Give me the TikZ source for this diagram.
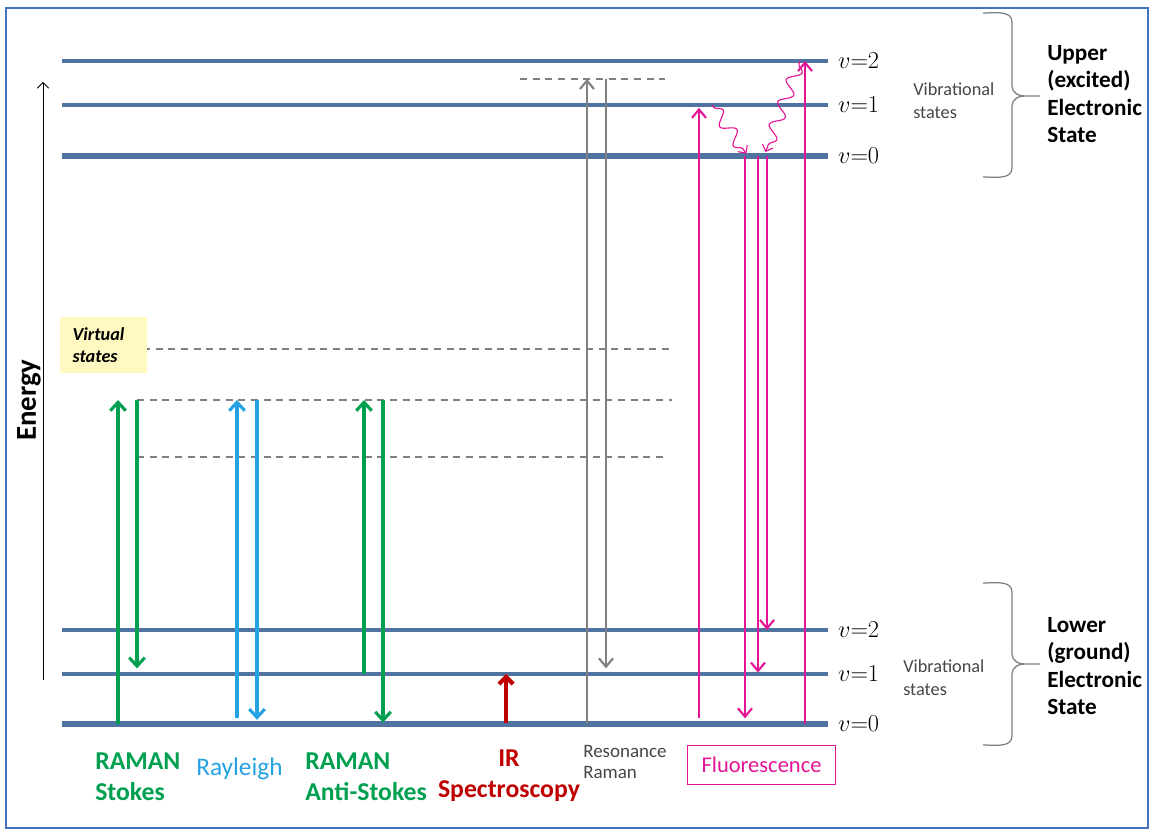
\documentclass[tikz,border=0pt]{standalone}
\usepackage{fontspec}
\setmainfont{Carlito}
\usetikzlibrary{arrows.meta}
\usetikzlibrary{positioning}
\usetikzlibrary{decorations.pathmorphing}

\definecolor{levelblue}{RGB}{80,116,162}
\definecolor{frameblue}{RGB}{68,114,196}
\definecolor{ramangreen}{RGB}{0,160,80}
\definecolor{rayblue}{RGB}{36,162,228}
\definecolor{irred}{RGB}{192,0,0}
\definecolor{resgray}{RGB}{128,128,128}
\definecolor{fluomag}{RGB}{228,20,150}
\definecolor{virtyellow}{RGB}{255,248,192}
\definecolor{textgray}{RGB}{70,70,70}

\tikzset{
    level/.style={levelblue, line width=2.5pt},
    zerolevel/.style={levelblue, line width=4.5pt},
    virtual/.style={gray, line width=1.1pt, dash pattern=on 5pt off 4pt},
    trans/.style={line width=2.2pt, -{Straight Barb[length=6pt,width=11pt]}},
    stokes/.style={trans, ramangreen},
    rayleigh/.style={trans, rayblue},
    ir/.style={trans, irred, line width=3pt, -{Straight Barb[length=5pt,width=10pt]}},
    res/.style={trans, resgray, line width=1.5pt, -{Straight Barb[length=6pt,width=10pt]}},
    fluo/.style={trans, fluomag, line width=1.5pt, -{Straight Barb[length=6pt,width=10pt]}},
    wavy/.style={fluomag, line width=0.8pt, decorate,
        decoration={snake, segment length=17pt, amplitude=4.5pt, pre length=2pt, post length=5pt},
        -{Straight Barb[length=4pt,width=8pt]}},
    statebrace/.style={gray, line width=0.9pt},
    vlab/.style={font=\fontsize{17}{20}\selectfont, inner sep=0pt},
    statelab/.style={font=\fontsize{16.5}{19.5}\selectfont\bfseries, align=left, anchor=north west, inner sep=0pt},
    viblab/.style={font=\fontsize{13}{16.3}\selectfont, text=textgray, align=left, anchor=north west, inner sep=0pt},
    methodlab/.style={font=\fontsize{18.3}{21.5}\selectfont\bfseries, align=left, anchor=north west, inner sep=0pt}
}

\begin{document}
\begin{tikzpicture}[x=0.025cm, y=-0.025cm]
    \useasboundingbox (0,0) rectangle (1152,832);
    \draw[frameblue, line width=1.5pt] (6,8) rectangle (1148,828);

    % energy levels
    \foreach \n/\y in {e2/61, e1/105, g2/630, g1/674}
        \draw[level] (62,\y) coordinate (\n) -- (828,\y) coordinate (\n-r);
    \foreach \n/\y in {e0/156, g0/724}
        \draw[zerolevel] (62,\y) coordinate (\n) -- (828,\y) coordinate (\n-r);
    \foreach \n/\v in {e2/2, e1/1, e0/0, g2/2, g1/1, g0/0}
        \node[vlab, right=7pt of \n-r] (\n-lab) {$v{=}\v$};

    % virtual states
    \draw[virtual] (143,349) coordinate (v1) -- (672,349);
    \draw[virtual] (137,400) coordinate (v2) -- (672,400);
    \draw[virtual] (137,457) coordinate (v3) -- (667,457);
    \draw[virtual] (520,79)  coordinate (vr) -- (665,79);
    \node[fill=virtyellow, text width=44pt, inner xsep=9pt, minimum height=40pt, align=left,
          font=\fontsize{13}{15.5}\selectfont\bfseries\itshape] (vstates) at (103.5,345) {Virtual\\states};

    % energy axis
    \coordinate (ax-bot) at (43,680);
    \coordinate (ax-top) at (43,82);
    \draw[line width=0.6pt, -{Straight Barb[length=4pt,width=8pt]}] (ax-bot) -- (ax-top);
    \node[rotate=90, font=\fontsize{20.5}{24}\selectfont\bfseries] (energy) at (29,400) {Energy};

    % transitions
    \path
        (118,0 |- g0) edge[stokes]                   (118,0 |- v2)
        (137,0 |- v2) edge[stokes, shorten >=4pt]    (137,0 |- g1)
        (237,0 |- g0) edge[rayleigh, shorten <=4pt]  (237,0 |- v2)
        (257,0 |- v2) edge[rayleigh, shorten >=3pt]  (257,0 |- g0)
        (364,0 |- g1) edge[stokes]                   (364,0 |- v2)
        (383,0 |- v2) edge[stokes, shorten >=1pt]    (383,0 |- g0)
        (506,0 |- g0) edge[ir, shorten <=1pt]        (506,0 |- g1)
        (587,0 |- g0) edge[res]                      (587,0 |- vr)
        (606,0 |- vr) edge[res, shorten >=4pt]       (606,0 |- g1)
        (699,0 |- g0) edge[fluo, shorten <=4pt, shorten >=2pt] (699,0 |- e1)
        (745,0 |- e0) edge[fluo, shorten >=4pt]      (745,0 |- g0)
        (758,0 |- e0) edge[fluo, shorten >=1pt]      (758,0 |- g1)
        (767,0 |- e0) edge[fluo]                     (767,0 |- g2)
        (805,0 |- g0) edge[fluo]                     (805,0 |- e2);
    \draw[wavy, shorten >=2pt] (712,0 |- e1) -- (748,0 |- e0);
    \draw[wavy, shorten >=3pt] (800,0 |- e2) -- (764,0 |- e0);

    % braces and state names
    \draw[statebrace] (983,13) to[out=0,in=90] (1012,22) -- (1012,86)
        to[out=-90,in=180] (1024,96) -- (1040,96);
    \draw[statebrace] (1024,96) to[out=180,in=90] (1012,106) -- (1012,168)
        to[out=-90,in=0] (983,177);
    \draw[statebrace] (983,583) to[out=0,in=90] (1012,592) -- (1012,654)
        to[out=-90,in=180] (1024,664) -- (1040,664);
    \draw[statebrace] (1024,664) to[out=180,in=90] (1012,674) -- (1012,736)
        to[out=-90,in=0] (983,745);
    \node[viblab] (upper-vib) at (913,83)  {Vibrational\\states};
    \node[viblab] (lower-vib) at (903,660) {Vibrational\\states};
    \node[statelab] (upper) at (1047,45)  {Upper\\(excited)\\Electronic\\State};
    \node[statelab] (lower) at (1047,617) {Lower\\(ground)\\Electronic\\State};

    % method names
    \node[methodlab, text=ramangreen] (stokes-lab) at (95,753) {RAMAN\\Stokes};
    \node[methodlab, text=rayblue, font=\fontsize{18}{21.5}\selectfont] (rayleigh-lab) at (196,758) {Rayleigh};
    \node[methodlab, text=ramangreen] (anti-lab) at (305,753) {RAMAN\\Anti-Stokes};
    \node[methodlab, text=irred, align=center, anchor=north] (ir-lab) at (509,750) {IR\\Spectroscopy};
    \node[viblab, text=textgray, font=\fontsize{13.5}{15}\selectfont] (res-lab) at (583,745) {Resonance\\Raman};
    \node[draw=fluomag, text=fluomag, line width=0.8pt, minimum width=105pt, minimum height=28pt,
          font=\fontsize{16}{19}\selectfont] (fluo-lab) at (761.5,765) {Fluorescence};
\end{tikzpicture}
\end{document}
